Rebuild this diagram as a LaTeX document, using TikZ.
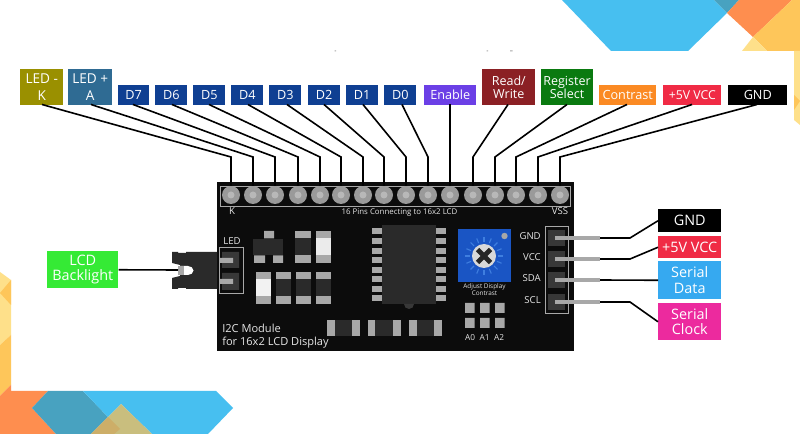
\documentclass[tikz,border=0pt]{standalone}
\usepackage{fontspec}
\setmainfont{Open Sans}
\definecolor{bOrange}{HTML}{FE8E4F}
\definecolor{bBlue}{HTML}{47BFF0}
\definecolor{bTeal}{HTML}{48A2C0}
\definecolor{bYel}{HTML}{FEC65A}
\definecolor{bPale}{HTML}{FEE08A}
\definecolor{bTan}{HTML}{C9BE7E}
\definecolor{bTanD}{HTML}{CDAE68}
\definecolor{padG}{HTML}{A8A8A8}
\definecolor{pinG}{HTML}{9A9A9A}
\definecolor{pinC}{HTML}{B8B8B8}
\definecolor{bodyD}{HTML}{2A2A2A}
\definecolor{hdrD}{HTML}{383838}
\definecolor{boardK}{HTML}{0C0C0C}
\definecolor{cOlive}{HTML}{9A9000}
\definecolor{cSteel}{HTML}{2F6B93}
\definecolor{cNavy}{HTML}{0F3F92}
\definecolor{cViolet}{HTML}{6B3FE6}
\definecolor{cMaroon}{HTML}{8B2024}
\definecolor{cGreen}{HTML}{0A7A10}
\definecolor{cOrange}{HTML}{FB8A23}
\definecolor{cRed}{HTML}{F02B45}
\definecolor{cLime}{HTML}{35EA35}
\definecolor{cSky}{HTML}{36A9F0}
\definecolor{cPink}{HTML}{EC2A9E}
\definecolor{cPot}{HTML}{1A55C4}
\definecolor{cRay}{HTML}{3F7FE0}
\tikzset{
 lab/.style={draw=none,inner sep=0,text=white,font=\fontsize{9.5}{12}\selectfont,align=center},
 wire/.style={black,line width=1.2pt,line join=miter},
 pinlead/.style={padG,line width=3pt},
 pintxt/.style={text=white!90!black,font=\fontsize{7.2}{8.5}\selectfont,inner sep=0,align=center},
 frameg/.style={draw=padG,line width=0.6pt,fill=none},
}
\newcommand{\labbox}[6]{% name, x1,y1,x2,y2, color ; text next
 \node[lab,fill=#6,minimum width=#4*0.75pt-#2*0.75pt,minimum height=#5*0.75pt-#3*0.75pt,anchor=north west] (#1) at (#2,#3)}
\newcommand{\vres}[3]{% x1,x2,y top; 32 tall
 \fill[bodyD] (#1,#3) rectangle (#2,#3+32);
 \fill[padG] (#1,#3) rectangle (#2,#3+7);
 \fill[padG] (#1,#3+24.5) rectangle (#2,#3+32);}
\newcommand{\hres}[1]{% x left; width 33
 \fill[bodyD] (#1,320) rectangle (#1+33,336);
 \fill[padG] (#1,320) rectangle (#1+7.5,336);
 \fill[padG] (#1+25,320) rectangle (#1+33,336);}
\begin{document}
\begin{tikzpicture}[x=0.75pt,y=-0.75pt]
\useasboundingbox (0,0) rectangle (800,434);
\fill[white] (0,0) rectangle (800,434);
% decorative background, top right
\fill[bBlue] (562,0) -- (611,51) -- (688,51) -- (727,13) -- (714,0) -- cycle;
\fill[bTeal] (714,0) -- (727,13) -- (739,0) -- cycle;
\fill[bOrange] (739,0) -- (727,13) -- (753,37) -- (792,0) -- cycle;
\fill[bYel] (792,0) -- (753,37) -- (767,51) -- (800,51) -- (800,0) -- cycle;
\fill[bPale] (753,37) -- (742,51) -- (767,51) -- cycle;
\fill[bPale] (794,51) -- (800,51) -- (800,125) -- (794,120) -- cycle;
\fill[bYel] (794,95) -- (800,101) -- (794,110) -- cycle;
% decorative background, bottom left
\fill[bPale] (0,272) -- (11,280) -- (11,335) -- (0,345) -- cycle;
\fill[bYel] (11,280) -- (11,305) -- (0,293) -- cycle;
\fill[bYel] (0,345) -- (11,335) -- (11,385) -- (0,396) -- cycle;
\fill[bOrange] (0,396) -- (11,385) -- (11,391) -- (48,391) -- (32,408) -- (56,434) -- (0,434) -- cycle;
\fill[bTeal] (48,391) -- (83,391) -- (108,417) -- (91,434) -- (56,434) -- (32,408) -- cycle;
\fill[bBlue] (83,391) -- (216,391) -- (233,408) -- (208,434) -- (152,434) -- (121,404) -- (108,417) -- cycle;
\fill[bTan] (121,404) -- (152,434) -- (91,434) -- cycle;
\fill[bTanD] (108,417) -- (120,429) -- (114,434) -- (91,434) -- cycle;
% specks
\fill[gray!70] (334.5,50.5) rectangle (336,51.5) (486.5,50.5) rectangle (488,51.5) (510,50.5) rectangle (512.5,51.5);

% board
\fill[boardK] (217,182) rectangle (574,351);
\draw[frameg] (220,186) rectangle (570,206);
\foreach \n/\x in {1/231,2/253,3/275,4/298,5/320,6/341,7/363,8/384,9/406,10/428,11/450,12/473,13/495,14/516,15/538,16/560}{
  \node[circle,minimum size=13.5pt,inner sep=0] (p\n) at (\x,195) {};
  \coordinate (e\n) at (\x,157);
}
% top labels
\begin{scope}[lab/.append style={font=\fontsize{10.2}{12}\selectfont}]
\labbox{k}{20}{69}{63}{104.5}{cOlive}{LED -\\[0.5pt]K};
\labbox{a}{68}{69}{112}{104.5}{cSteel}{LED +\\[0.5pt]A};
\end{scope}
\foreach \nm/\a/\b/\t in {d7/117.5/149/D7,d6/155/187/D6,d5/193/225/D5,d4/231/263/D4,d3/269/301/D3,d2/307.5/340/D2,d1/345.5/378/D1,d0/384/416/D0}{
  \labbox{\nm}{\a}{85}{\b}{104.5}{cNavy}{\t};
}
\labbox{en}{424}{85}{476}{104.5}{cViolet}{Enable};
\begin{scope}[lab/.append style={font=\fontsize{9.4}{12}\selectfont}]
\labbox{rw}{482}{69}{535}{104.5}{cMaroon}{Read/\\[-2.2pt]Write};
\labbox{rs}{540.5}{69}{593}{104.5}{cGreen}{Register\\[-2.2pt]Select};
\end{scope}
\labbox{ct}{599}{85}{656}{104.5}{cOrange}{Contrast};
\labbox{vc}{663}{85}{721}{104.5}{cRed}{\fontsize{9.2}{12}\selectfont +5V VCC};
\labbox{gn}{728}{85}{787}{104.5}{black}{GND};
% connectors
\coordinate (sk) at (42,104.5); \coordinate (sa) at (91,104.5);
\coordinate (s7) at (133,104.5); \coordinate (s6) at (172,104.5);
\coordinate (s5) at (209,104.5); \coordinate (s4) at (248,104.5);
\coordinate (s3) at (287,104.5); \coordinate (s2) at (324,104.5);
\coordinate (s1) at (363,104.5); \coordinate (s0) at (402,104.5);
\coordinate (sen) at (450,104.5); \coordinate (srw) at (508,104.5);
\coordinate (srs) at (567,104.5); \coordinate (sct) at (627,104.5);
\coordinate (svc) at (692,104.5); \coordinate (sgn) at (757,104.5);
\foreach \s/\n in {sk/1,sa/2,s7/3,s6/4,s5/5,s4/6,s3/7,s2/8,s1/9,s0/10,sen/11,srw/12,srs/13,sct/14,svc/15,sgn/16}{
  \draw[wire] (\s) -- (e\n) -- (p\n.center);
}
% pin faces over the wire ends
\foreach \x in {231,253,275,298,320,341,363,384,406,428,450,473,495,516,538,560}{
  \fill[pinG] (\x,195) circle[radius=9];
  \fill[pinC] (\x,195) circle[radius=3.5];
}
% board text
\node[pintxt] (tk) at (232,211.5) {K};
\node[pintxt,font=\fontsize{5.9}{7}\selectfont] (t16) at (399.5,212.5) {16 Pins Connecting to 16x2 LCD};
\node[pintxt] (tvss) at (560,211.5) {VSS};
\node[pintxt] (tled) at (232,241) {LED};
\node[pintxt,font=\fontsize{8.3}{9.3}\selectfont,align=left,anchor=north west] (tmod) at (222,324) {I2C Module\\for 16x2 LCD Display};
% LED header and jack
\fill[bodyD] (172,252) -- (178,252) -- (178,253) -- (186,253) -- (186,252) -- (217,252) -- (217,289) -- (186,289) -- (186,288) -- (178,288) -- (178,289) -- (172,289) -- (172,278) -- (180,276) -- (180,265) -- (172,263) -- cycle;
\fill[white] (180,266) -- (188,266) .. controls (191,266) and (193.5,268) .. (193.5,270.5) .. controls (193.5,273) and (191,275) .. (188,275) -- (180,275) -- cycle;
\fill[padG] (178,266) rectangle (184,275);
\draw[frameg] (219,247) rectangle (243,293);
\fill[hdrD] (222,252) rectangle (239,268) (222,273) rectangle (239,290);
\fill[padG] (220,258) rectangle (233,263) (220,279) rectangle (233,284);
\begin{scope}[lab/.append style={font=\fontsize{10.8}{12}\selectfont}]
\labbox{bl}{47}{251}{118}{288}{cLime}{LCD\\[-1pt]Backlight};
\end{scope}
\coordinate (jk) at (178,270);
\draw[wire] (bl.east) -- (jk);
% SMD parts
\fill[bodyD] (253,239) rectangle (283,255);
\fill[padG] (264,231) rectangle (274,238.5) (254,255.5) rectangle (265,263) (273,255.5) rectangle (283,263);
\vres{295}{311}{231}
\vres{316}{331}{231}
\fill[white!92!black] (316,238) rectangle (331,255.5);
\vres{256}{271}{272}
\fill[white!95!black] (256,279) rectangle (271,296.5);
\vres{276}{291}{272}
\vres{295.5}{311}{272}
\vres{316}{331}{272}
\hres{327}
\hres{367.5}
\hres{409}
% IC
\fill[bodyD] (382,225) rectangle (436,304);
\fill[hdrD] (404,304) arc[start angle=180,end angle=0,radius=5];
\foreach \y in {231,241,251,260,270,279,289,298.5}{
  \fill[padG] (372,\y-3) rectangle (382,\y+3);
  \fill[padG] (436,\y-3) rectangle (446,\y+3);
}
% potentiometer
\fill[cPot] (458,229) rectangle (511,282);
\fill[padG] (504.5,236) circle[radius=3.2];
\foreach \a in {0,22.5,...,337.5}{
  \draw[cRay,line width=0.8pt] (484,256) ++(\a:14) -- ++(\a:5);
}
\fill[white!85!black] (484,256) circle[radius=12];
\draw[black!85,line width=3.6pt] (477.5,249.5) -- (490.5,262.5) (490.5,249.5) -- (477.5,262.5);
\node[pintxt,font=\fontsize{4.8}{5.6}\selectfont] (adj) at (484.5,289.5) {Adjust Display\\Contrast};
\foreach \x in {465,480,495}{
  \fill[padG] (\x,303) rectangle (\x+9.5,313) (\x,318) rectangle (\x+9.5,328);
}
\node[pintxt,font=\fontsize{6.2}{7}\selectfont] (a0) at (470,337.5) {A0};
\node[pintxt,font=\fontsize{6.2}{7}\selectfont] (a1) at (484.5,337.5) {A1};
\node[pintxt,font=\fontsize{6.2}{7}\selectfont] (a2) at (499,337.5) {A2};
% I2C header
\draw[frameg] (545,226) rectangle (568,313);
\foreach \y/\t/\nm in {238/GND/hg,259/VCC/hv,280/SDA/hd,302/SCL/hc}{
  \fill[hdrD] (548,\y-8) rectangle (565,\y+8);
  \node[pintxt,anchor=east] (\nm) at (541,\y-1.5) {\t};
  \coordinate (\nm e) at (600,\y);
  \draw[pinlead] (555,\y) -- (\nm e);
}
% right labels
\begin{scope}[lab/.append style={font=\fontsize{10.8}{12}\selectfont}]
\labbox{rg}{658}{209}{721}{232}{black}{GND};
\labbox{rv}{658}{236}{721}{258}{cRed}{+5V VCC};
\labbox{rd}{658}{261}{721}{299}{cSky}{Serial\\[-0.5pt]Data};
\labbox{rc}{658}{303}{721}{340}{cPink}{Serial\\[-0.5pt]Clock};
\end{scope}
\draw[wire] (hge) -- (630,238) -- (rg.west);
\draw[wire] (hve) -- (630,259) -- (rv.west);
\draw[wire] (hde) -- (rd.west);
\draw[wire] (hce) -- (630,302) -- (rc.west);
\end{tikzpicture}
\end{document}
